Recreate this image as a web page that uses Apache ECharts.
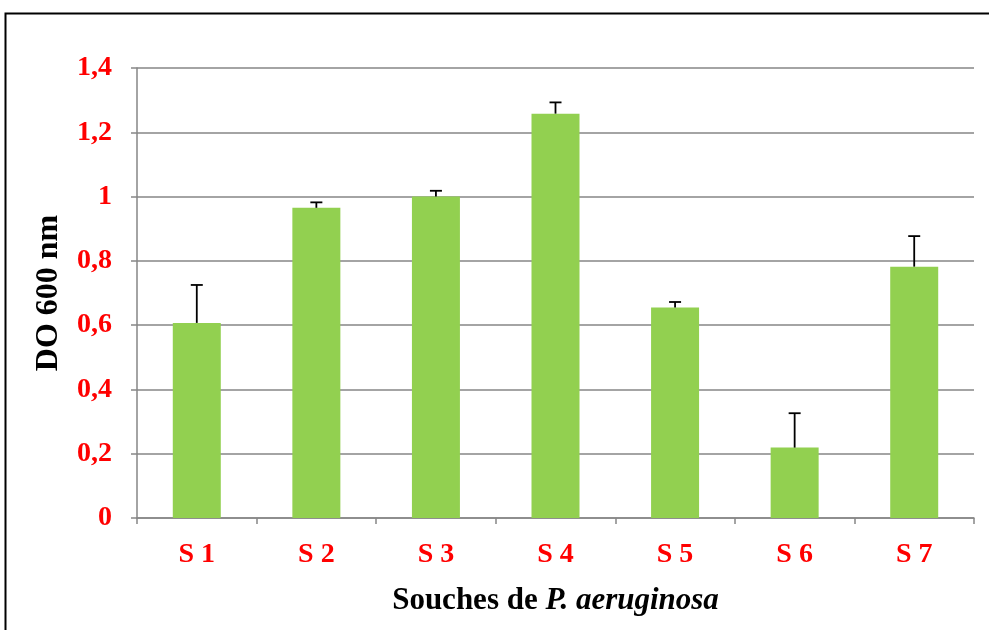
<!DOCTYPE html>
<html>
<head>
<meta charset="utf-8">
<script src="https://cdn.jsdelivr.net/npm/echarts@6/dist/echarts.min.js"></script>
<style>
  html, body { margin: 0; padding: 0; background: #fff; }
  #chart { width: 989px; height: 630px; }
</style>
</head>
<body>
<div id="chart"></div>
<script>
// Strains and measured optical density at 600 nm
const strains = ['S 1', 'S 2', 'S 3', 'S 4', 'S 5', 'S 6', 'S 7'];
const odMeans = [0.607, 0.965, 1.0, 1.258, 0.655, 0.219, 0.782];
const odErrors = [0.118, 0.017, 0.018, 0.035, 0.017, 0.107, 0.095];
const yTicks = [0, 0.2, 0.4, 0.6, 0.8, 1.0, 1.2, 1.4];

const labelFont = 'Liberation Serif, Times New Roman, serif';
const chart = echarts.init(document.getElementById('chart'));

const errorData = strains.map((s, i) => [i, odMeans[i], odMeans[i] + odErrors[i]]);

chart.setOption({
  animation: false,
  graphic: [{
    type: 'rect',
    shape: { x: 5.5, y: 13.5, width: 1000, height: 700 },
    style: { fill: 'none', stroke: '#000', lineWidth: 2 },
    z: 0
  }],
  grid: { left: 137, right: 15, top: 68, bottom: 112, containLabel: false },
  xAxis: {
    type: 'category',
    data: strains,
    axisLine: { lineStyle: { color: '#868686', width: 1.5 } },
    axisTick: { show: true, length: 6, lineStyle: { color: '#868686', width: 1.5 } },
    axisLabel: {
      color: '#ff0000', fontFamily: labelFont, fontWeight: 'bold', fontSize: 28,
      margin: 23
    },
    name: '{b|Souches de }{i|P. aeruginosa}',
    nameLocation: 'middle',
    nameGap: 67,
    nameTextStyle: {
      rich: {
        b: { fontFamily: labelFont, fontWeight: 'bold', fontSize: 31, color: '#000' },
        i: { fontFamily: labelFont, fontWeight: 'bold', fontStyle: 'italic', fontSize: 31, color: '#000' }
      }
    }
  },
  yAxis: {
    type: 'value',
    min: 0,
    max: 1.4,
    interval: 0.2,
    axisLine: { show: true, lineStyle: { color: '#868686', width: 1.5 } },
    axisTick: { show: true, length: 6, inside: false, lineStyle: { color: '#868686', width: 1.5 } },
    splitLine: { show: true, lineStyle: { color: '#868686', width: 1.5 } },
    axisLabel: {
      color: '#ff0000', fontFamily: labelFont, fontWeight: 'bold', fontSize: 28,
      margin: 25,
      formatter: v => {
        const t = yTicks.find(k => Math.abs(k - v) < 1e-9);
        return String(+(t !== undefined ? t : v).toFixed(1)).replace('.', ',');
      }
    },
    name: 'DO 600 nm',
    nameLocation: 'middle',
    nameGap: 72,
    nameTextStyle: { fontFamily: labelFont, fontWeight: 'bold', fontSize: 32, color: '#000' }
  },
  series: [
    {
      type: 'bar',
      data: odMeans,
      barWidth: 48,
      itemStyle: { color: '#92d050' },
      z: 2
    },
    {
      type: 'custom',
      data: errorData,
      z: 3,
      renderItem: (params, api) => {
        const x = api.value(0);
        const base = api.coord([x, api.value(1)]);
        const top = api.coord([x, api.value(2)]);
        const half = 6;
        const style = { stroke: '#000', lineWidth: 1.8 };
        return {
          type: 'group',
          children: [
            { type: 'line', shape: { x1: base[0], y1: base[1], x2: top[0], y2: top[1] }, style },
            { type: 'line', shape: { x1: top[0] - half, y1: top[1], x2: top[0] + half, y2: top[1] }, style }
          ]
        };
      }
    }
  ]
});
</script>
</body>
</html>
